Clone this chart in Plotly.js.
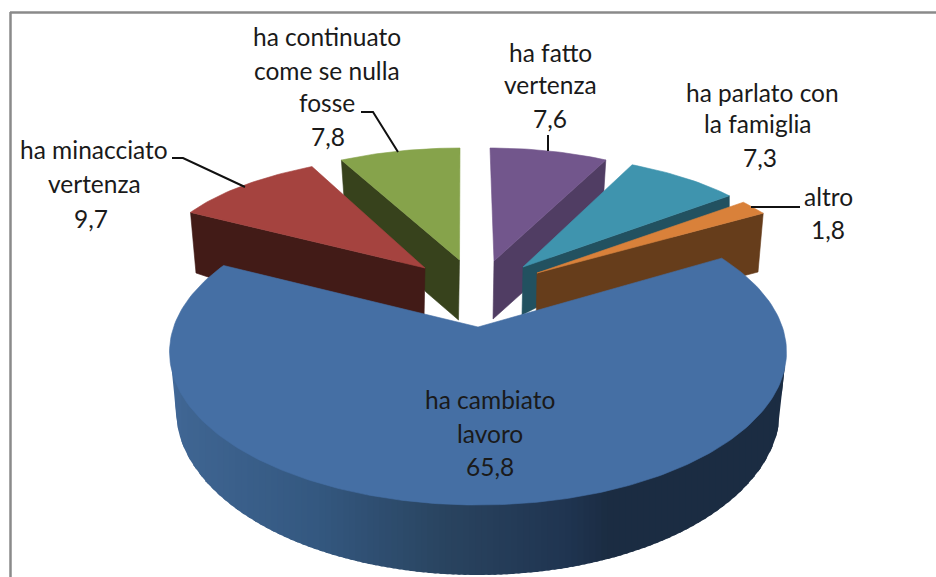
<!DOCTYPE html>
<html>
<head>
<meta charset="utf-8">
<script src="https://cdn.plot.ly/plotly-3.0.1.min.js"></script>
<style>html,body{margin:0;padding:0;background:#fff;overflow:hidden}#chart{width:936px;height:577px}</style>
</head>
<body>
<div id="chart"></div>
<script>
// ---- data, clockwise from twelve o'clock ----
const categories = ["ha fatto vertenza", "ha parlato con la famiglia", "altro", "ha cambiato lavoro", "ha minacciato vertenza", "ha continuato come se nulla fosse"];
const values = [7.6, 7.3, 1.8, 65.8, 9.7, 7.8];
const valueLabels = ["7,6", "7,3", "1,8", "65,8", "9,7", "7,8"];
const labelLines = [["ha fatto", "vertenza"], ["ha parlato con", "la famiglia"], ["altro"], ["ha cambiato", "lavoro"], ["ha minacciato", "vertenza"], ["ha continuato", "come se nulla", "fosse"]];

// ---- styling: projection and colours of each exploded slice ----
const topColors  = ["#72568C", "#3F94AE", "#D9813A", "#456FA4", "#A5433F", "#86A34B"];
const wallColors = ["#503D63", "#225160", "#663D1B", "#1B2C42", "#421B17", "#37421C"];
const discs = [
  {cx:490, cy:255, a:252, b:107, ax:494, ay:261},
  {cx:503, cy:258, a:281, b:105, ax:523, ay:267},
  {cx:484, cy:271, a:322, b:116, ax:537, ay:273},
  {cx:478, cy:352, a:308.5, b:153, ax:478, ay:327, warp:9.2},
  {cx:448, cy:261, a:289, b:107, ax:425, ay:268},
  {cx:460, cy:251, a:252, b:103, ax:459.5, ay:260}
];
// cut-face outlines beyond the projected top edge: offsets below the apex and the rim
const wallDrop = [
  {rim:1, apex:58, extra:[[522,293]], rimDx:-2, rimDy:32},
  {rim:1, apex:48, extra:[], rimDx:0, rimDy:12},
  {rim:0, apex:57, extra:[[740,276],[758,272]], rimDx:0, rimDy:0},
  null,
  {rim:0, apex:52, extra:[[220,281],[196,273]], rimDx:0, rimDy:0},
  {rim:0, apex:60, extra:[[426,292],[344,198]], rimDx:0, rimDy:0}
];
const drawOrder = [5, 0, 1, 4, 2, 3];
const labelCentres = [
  [[550,52],[550,84],[550,118]],
  [[762,92],[758,123.5],[760,157]],
  [[828,196.5],[828,229]],
  [[490,399.5],[490,433],[490,466]],
  [[94,149],[94,183],[91,218]],
  [[327,36.5],[327,70.5],[327,102],[328,136]]
];
const wallStops = [[170,[66,105,155]],[183,[63,101,146]],[317,[52,88,128]],[450,[41,67,95]],[570,[31,52,80]],[610,[27,44,66]],[787,[27,44,66]]];

// ---- geometry from the values ----
const total = values.reduce((s,v)=>s+v,0);
let cum = 0;
const spans = values.map(v=>{const s=cum/total*360; cum+=v; return [s,cum/total*360];});
const rad = d=>d*Math.PI/180;
function rimPoint(d,deg){
  const phi = deg - (d.warp||0)*Math.sin(rad(2*deg));
  return [d.cx + d.a*Math.sin(rad(phi)), d.cy - d.b*Math.cos(rad(phi))];
}
function arc(i){
  const [s,e]=spans[i], pts=[], n=Math.max(6,Math.ceil(e-s));
  for(let k=0;k<=n;k++) pts.push(rimPoint(discs[i],s+(e-s)*k/n));
  return pts;
}
function poly(pts,color,name,w){
  return {type:"scatter",mode:"lines",x:pts.map(p=>p[0]).concat(pts[0][0]),y:pts.map(p=>p[1]).concat(pts[0][1]),
    fill:"toself",fillcolor:color,line:{color:color,width:w===undefined?0.6:w},hoverinfo:"skip",showlegend:false,name:name};
}
function wallColor(x){
  for(let i=1;i<wallStops.length;i++){
    if(x<=wallStops[i][0]){
      const [x0,c0]=wallStops[i-1],[x1,c1]=wallStops[i],t=(x-x0)/(x1-x0);
      return "rgb("+c0.map((c,j)=>Math.round(c+(c1[j]-c)*t)).join(",")+")";
    }
  }
  return "rgb(27,44,66)";
}
function blueWall(){
  const d=discs[3], out=[], botCy=410, botA=302, botB=165, step=6, overlap=3;
  const topY=x=>{const u=Math.min(1,Math.abs(x-d.cx)/d.a);return d.cy+d.b*Math.sqrt(1-u*u);};
  const botY=x=>{const dx=Math.abs(x-d.cx);
    if(dx<botA) return botCy+botB*Math.sqrt(1-dx*dx/(botA*botA));
    const t=(d.a-dx)/(d.a-botA); return d.cy+(botCy-d.cy)*Math.max(0,t);};
  for(let x=d.cx-d.a;x<d.cx+d.a;x+=step){
    const x1=Math.min(x+step+overlap,d.cx+d.a), pts=[];
    for(let k=0;k<=4;k++){const q=x+(x1-x)*k/4;pts.push([q,topY(q)-4]);}
    for(let k=4;k>=0;k--){const q=x+(x1-x)*k/4;pts.push([q,botY(q)]);}
    out.push(poly(pts,wallColor((x+x1)/2),"wall",0));
  }
  return out;
}

const traces=[];
drawOrder.forEach(i=>{
  const d=discs[i], rim=arc(i), w=wallDrop[i];
  if(w){
    const wallEdge = (i===0||i===1||i===2) ? rim[rim.length-1] : rim[0];
    const pts=[wallEdge,[d.ax,d.ay],[d.ax-1,d.ay+w.apex]].concat(w.extra);
    if(w.rim) pts.push([wallEdge[0]+w.rimDx,wallEdge[1]+w.rimDy]);
    traces.push(poly(pts,wallColors[i],categories[i]+" wall"));
  } else {
    blueWall().forEach(t=>traces.push(t));
  }
  traces.push(poly([[d.ax,d.ay]].concat(rim),topColors[i],categories[i]));
});

// ---- text ----
const annotations=[];
categories.forEach((c,i)=>{
  labelLines[i].concat(valueLabels[i]).forEach((txt,j)=>{
    annotations.push({x:labelCentres[i][j][0],y:labelCentres[i][j][1],xref:"x",yref:"y",text:txt,showarrow:false,
      xanchor:"center",yanchor:"middle",font:{family:"Lato, Carlito, sans-serif",size:24.5,color:"#1a1a1a"}});
  });
});

const leader=(path)=>({type:"path",path:path,xref:"x",yref:"y",line:{color:"#111",width:2}});
const shapes=[
  {type:"line",xref:"x",yref:"y",x0:10,x1:936,y0:12.5,y1:12.5,line:{color:"#8a8a8a",width:2.5}},
  {type:"line",xref:"x",yref:"y",x0:10.5,x1:10.5,y0:12,y1:577,line:{color:"#8a8a8a",width:2.5}},
  leader("M172,158 L183,158 L245,187"),
  leader("M361,112 L373,112 L398,152"),
  leader("M548,135 L548,151"),
  leader("M751,207 L800,207")
];

Plotly.newPlot("chart",traces,{
  width:936,height:577,margin:{l:0,r:0,t:0,b:0},paper_bgcolor:"#fff",plot_bgcolor:"#fff",showlegend:false,
  xaxis:{range:[0,936],visible:false,fixedrange:true},
  yaxis:{range:[577,0],visible:false,fixedrange:true},
  annotations:annotations,shapes:shapes
},{displayModeBar:false,staticPlot:true});
</script>
</body>
</html>
